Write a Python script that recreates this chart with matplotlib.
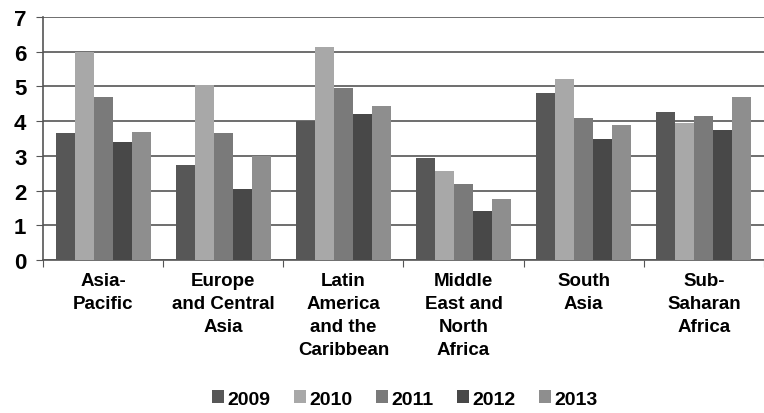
import matplotlib
matplotlib.use("Agg")
import matplotlib.pyplot as plt
import numpy as np

categories = ["Asia-\nPacific", "Europe\nand Central\nAsia", "Latin\nAmerica\nand the\nCaribbean",
              "Middle\nEast and\nNorth\nAfrica", "South\nAsia", "Sub-\nSaharan\nAfrica"]
years = ["2009", "2010", "2011", "2012", "2013"]
v2009 = [3.65, 2.75, 4.0, 2.95, 4.8, 4.25]
v2010 = [6.0, 5.05, 6.15, 2.55, 5.2, 3.95]
v2011 = [4.7, 3.65, 4.95, 2.2, 4.1, 4.15]
v2012 = [3.4, 2.05, 4.2, 1.4, 3.5, 3.75]
v2013 = [3.7, 3.0, 4.45, 1.75, 3.9, 4.7]
series = [v2009, v2010, v2011, v2012, v2013]
colors = ["#575757", "#a8a8a8", "#7a7a7a", "#484848", "#8e8e8e"]

plt.rcParams['font.family'] = ['Liberation Sans', 'DejaVu Sans']
fig = plt.figure(figsize=(7.64, 4.14), dpi=100)
ax = fig.add_axes([43/764, 1-261/414, 721/764, 243/414])

x = np.arange(len(categories))
w = 0.158
for i, (s, c) in enumerate(zip(series, colors)):
    ax.bar(x + (i - 2) * w, s, width=w, color=c, label=years[i], zorder=3)

ax.set_xlim(-0.5, 5.5)
ax.set_ylim(0, 7)
ax.set_yticks(range(8))
ax.yaxis.grid(True, color="#555555", linewidth=1.2, zorder=0)
ax.set_xticks(np.arange(-0.5, 6, 1))
ax.set_xticklabels([])
ax.set_xticks(x, minor=True)
ax.set_xticklabels(categories, minor=True, fontsize=13.5, fontweight="bold", linespacing=1.45)
ax.tick_params(axis="x", which="minor", length=0, pad=9)
ax.tick_params(axis="x", which="major", length=5, color="#555555", direction="out")
ax.tick_params(axis="y", length=5, color="#555555", labelsize=16, pad=7)
for t in ax.get_yticklabels():
    t.set_fontweight("bold")
for sp in ["top", "right"]:
    ax.spines[sp].set_visible(False)
for sp in ["left", "bottom"]:
    ax.spines[sp].set_color("#555555")
    ax.spines[sp].set_linewidth(1.2)

fig.legend(loc="center", bbox_to_anchor=(405/764, 1-400/414), ncol=5, frameon=False,
           prop={"size": 14, "weight": "bold"}, handlelength=0.6, handleheight=0.6,
           handletextpad=0.2, columnspacing=1.2)
fig.savefig("out.png", dpi=100)
